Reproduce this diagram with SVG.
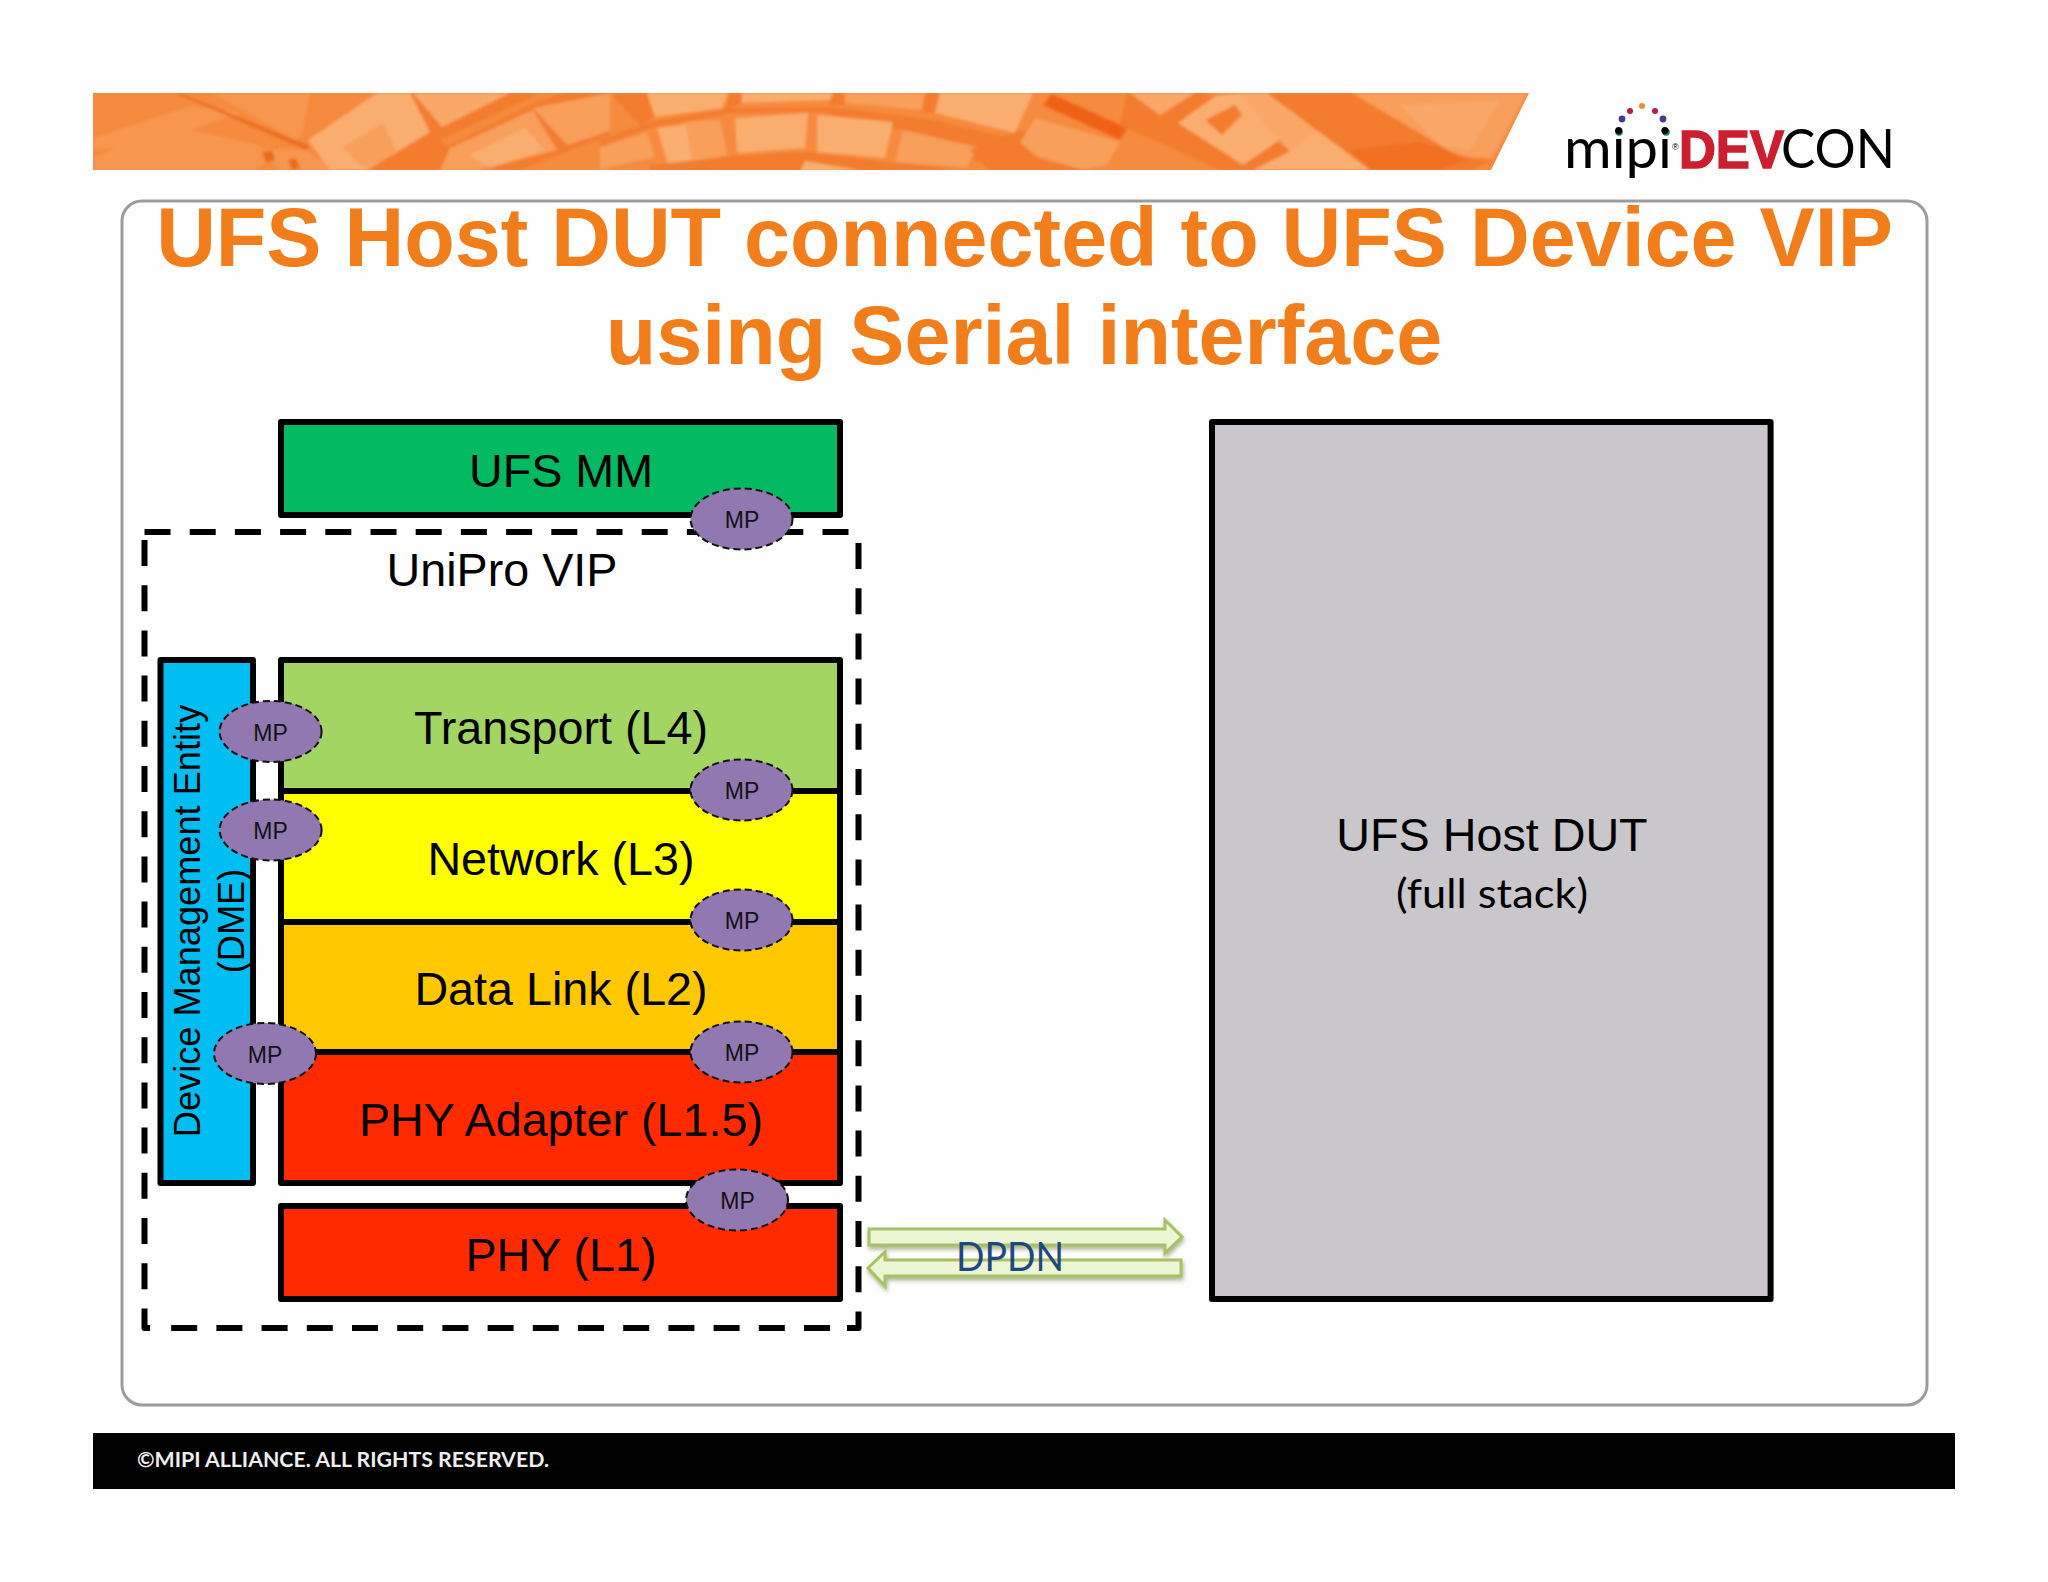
<svg xmlns="http://www.w3.org/2000/svg" width="2048" height="1582" viewBox="0 0 2048 1582">
<defs>
<style>
text{font-family:"Liberation Sans",Arial,sans-serif;fill:#000}
.box{stroke:#000;stroke-width:6;stroke-linejoin:round}
.lbl{font-size:46.7px;text-anchor:middle}
.mp ellipse{fill:#9178b1;stroke:#111;stroke-width:2;stroke-dasharray:7 4}
.mp text{font-size:23px;text-anchor:middle;fill:#111}
.title{font-size:82.7px;font-weight:bold;fill:#f27d1b;text-anchor:middle}
.dme{font-size:36.2px;text-anchor:middle}
.arrow{fill:#ecf6d4;stroke:#a8c264;stroke-width:3;filter:url(#sh)}
.cal{font-family:Lato,"Noto Sans",sans-serif}
.b0{fill:#f7964f}.b1{fill:#f9ae70}.b2{fill:#f89f5b}.b3{fill:#f37c2f}.b4{fill:#ef6218}.b5{fill:#f9a868}
</style>
<filter id="sh" x="-5%" y="-40%" width="110%" height="200%"><feDropShadow dx="1" dy="3" stdDeviation="2" flood-color="#6b7a3a" flood-opacity=".55"/></filter>
<filter id="soft" x="-2%" y="-10%" width="104%" height="120%"><feGaussianBlur stdDeviation="1.6"/></filter>
<clipPath id="bc"><polygon points="93,93 1529,93 1491,170 93,170"/></clipPath>
</defs>
<rect width="2048" height="1582" fill="#fefefe"/>

<g id="banner" clip-path="url(#bc)">
<rect x="93" y="93" width="1440" height="77" fill="#f68a3e"/>
<g filter="url(#soft)">
<polygon class="b0" points="93,138 190,106 240,112 150,146 93,150"/>
<polygon class="b0" points="170,125 260,145 270,160 255,170 93,170 93,158"/>
<polygon class="b0" points="212,93 310,93 302,135 295,140"/>
<polygon points="175,93 180,93 310,146 306,150" fill="#ea6e22"/>
<polygon class="b0" points="250,148 306,150 335,170 280,170"/>
<polygon points="262,152 272,150 275,160 266,163" fill="#ea6a1e"/>
<polygon points="288,160 296,158 300,168 292,170" fill="#ea6a1e"/>
<polygon class="b3" points="395,93 540,93 440,140 470,170 367,170 430,132"/>
<polygon class="b1" points="308,140 377,93 410,93 430,132 367,170 330,170"/>
<polygon class="b2" points="343,147 383,123 397,153 367,168 358,163"/>
<polygon class="b5" points="413,93 442,127 510,93"/>
<polygon class="b3" points="440,150 540,100 610,80 610,135 570,150 520,170 430,170"/>
<polygon class="b2" points="450,148 533,110 557,150 480,170 440,170"/>
<polygon class="b1" points="470,155 525,128 545,150 490,168"/>
<polygon class="b2" points="533,108 610,93 610,131 567,145"/>
<polygon class="b3" points="600,140 650,122 730,108 833,107 933,120 1017,140 1100,170 1000,170 900,130 820,112 735,113 650,128 600,146"/>
<polygon class="b3" points="610,93 650,93 655,117 640,125"/>
<polygon class="b3" points="730,93 745,93 742,103 725,110"/>
<polygon class="b3" points="832,93 845,93 845,105 828,105"/>
<polygon class="b3" points="925,93 942,93 935,113 920,112"/>
<polygon class="b1" points="647,93 728,93 722,108 655,117"/>
<polygon class="b1" points="742,93 833,93 830,100 742,103"/>
<polygon class="b2" points="845,93 925,93 922,110 845,103"/>
<polygon class="b1" points="940,93 1033,93 1015,133 935,113"/>
<polygon class="b1" points="657,128 720,120 727,155 668,165"/>
<polygon class="b2" points="685,122 720,120 727,155 692,160"/>
<polygon class="b1" points="735,118 808,113 805,148 737,153"/>
<polygon class="b1" points="817,115 893,122 885,158 817,152"/>
<polygon class="b2" points="903,130 977,147 967,168 895,162"/>
<polygon class="b2" points="600,148 647,132 655,157 600,170"/>
<polygon class="b3" points="650,165 735,156 810,152 885,162 965,170 650,172"/>
<polygon class="b1" points="805,161 860,170 800,172"/>
<polygon class="b3" points="730,163 792,161 792,172 730,172"/>
<polygon class="b3" points="970,150 1020,130 1100,165 1085,172 990,172"/>
<polygon class="b2" points="1020,143 1035,118 1120,142 1107,165 1083,170 1037,157"/>
<polygon class="b4" points="1043,105 1052,94 1127,128 1120,140"/>
<polygon class="b3" points="1127,93 1205,93 1320,170 1220,170 1120,125"/>
<polygon class="b5" points="1130,93 1195,93 1160,115"/>
<polygon class="b1" points="1178,123 1217,95 1250,93 1297,128 1243,165"/>
<polygon class="b3" points="1205,120 1235,105 1242,115 1222,135"/>
<polygon class="b5" points="1237,93 1267,93 1370,170 1307,170"/>
<polygon class="b1" points="1287,153 1320,130 1370,170 1253,170"/>
<polygon class="b3" points="1267,93 1350,93 1460,157 1493,160 1470,170 1370,170"/>
<polygon class="b2" points="1353,93 1527,93 1493,158 1460,157"/>
<polygon class="b5" points="1400,105 1500,100 1470,150 1440,145"/>
<polygon class="b4" points="1350,150 1420,142 1470,158 1440,170 1370,170" opacity=".45"/>
</g>
</g>

<g id="logo">
<g fill="#f28c28"><circle cx="1642" cy="106" r="3"/></g>
<g fill="#b91c3c"><circle cx="1630" cy="111" r="3"/><circle cx="1655" cy="111" r="3"/></g>
<g fill="#4a3a8c"><circle cx="1622" cy="119" r="3.4"/><circle cx="1663" cy="119" r="3.4"/></g>
<g fill="#0f8a72"><circle cx="1619" cy="132" r="3.8"/><circle cx="1666" cy="132" r="3.8"/></g>
<text class="cal" x="1564" y="168" font-size="57" textLength="108" lengthAdjust="spacingAndGlyphs">mipi</text>
<text x="1672" y="150" font-size="9">®</text>
<text x="1679" y="168" font-size="54" font-weight="bold" style="fill:#cb1f30;stroke:#cb1f30;stroke-width:1.5" textLength="105" lengthAdjust="spacingAndGlyphs">DEV</text>
<text class="cal" x="1781" y="168" font-size="54" textLength="114" lengthAdjust="spacingAndGlyphs">CON</text>
</g>

<g id="panel">
<rect x="122" y="201" width="1805" height="1204" rx="20" fill="#fefefe" stroke="#9c9c9c" stroke-width="3"/>
</g>

<g id="title">
<text class="title" x="1024.5" y="266">UFS Host DUT connected to UFS Device VIP</text>
<text class="title" x="1024" y="364">using Serial interface</text>
</g>

<g id="unipro-vip">
<path d="M144.5 532H855M858.5 543V1312M144.5 540V1310M830 1328H171" fill="none" stroke="#000" stroke-width="6" stroke-dasharray="26 19.2"/>
<path d="M858.5 1312V1328H847M144.5 1310V1328H150" fill="none" stroke="#000" stroke-width="6" stroke-linejoin="round"/>
<text class="lbl" x="502" y="586">UniPro VIP</text>
</g>

<g id="ufs-mm"><rect class="box" x="281" y="422" width="559" height="93" fill="#03b962"/><text class="lbl" x="561" y="487">UFS MM</text></g>

<g id="dme">
<rect class="box" x="160.5" y="660" width="92.5" height="523" fill="#00bef2"/>
<text class="dme" transform="translate(200 921) rotate(-90)">Device Management Entity</text>
<text class="dme" transform="translate(244 921) rotate(-90)">(DME)</text>
</g>

<g id="transport"><rect class="box" x="281" y="660" width="559" height="131" fill="#a3d563"/><text class="lbl" x="561" y="744">Transport (L4)</text></g>
<g id="network"><rect class="box" x="281" y="791" width="559" height="131" fill="#ffff00"/><text class="lbl" x="561" y="875">Network (L3)</text></g>
<g id="data-link"><rect class="box" x="281" y="922" width="559" height="130" fill="#ffc800"/><text class="lbl" x="561" y="1005">Data Link (L2)</text></g>
<g id="phy-adapter"><rect class="box" x="281" y="1052" width="559" height="131" fill="#ff2a00"/><text class="lbl" x="561" y="1136">PHY Adapter (L1.5)</text></g>
<g id="phy"><rect class="box" x="281" y="1206" width="559" height="93" fill="#ff2a00"/><text class="lbl" x="561" y="1271">PHY (L1)</text></g>

<g id="host-dut">
<rect class="box" x="1212" y="422" width="558.6" height="877" fill="#c9c7cb"/>
<text class="lbl" x="1492" y="851">UFS Host DUT</text>
<text class="cal" x="1396" y="908" font-size="41" textLength="192" lengthAdjust="spacingAndGlyphs">(full stack)</text>
</g>

<g id="mp-mm" class="mp"><ellipse cx="741.5" cy="519" rx="51" ry="30.5"/><text x="742" y="528">MP</text></g>
<g id="mp-dme-l4" class="mp"><ellipse cx="270.6" cy="731.5" rx="51" ry="30.5"/><text x="270.6" y="740.5">MP</text></g>
<g id="mp-l4" class="mp"><ellipse cx="741.5" cy="790" rx="51" ry="30.5"/><text x="742" y="799">MP</text></g>
<g id="mp-dme-l3" class="mp"><ellipse cx="270.6" cy="830" rx="51" ry="30.5"/><text x="270.6" y="839">MP</text></g>
<g id="mp-l3" class="mp"><ellipse cx="741.5" cy="920" rx="51" ry="30.5"/><text x="742" y="929">MP</text></g>
<g id="mp-dme-l2" class="mp"><ellipse cx="265" cy="1053.5" rx="51" ry="30.5"/><text x="265" y="1062.5">MP</text></g>
<g id="mp-l2" class="mp"><ellipse cx="741.5" cy="1052" rx="51" ry="30.5"/><text x="742" y="1061">MP</text></g>
<g id="mp-l1" class="mp"><ellipse cx="737" cy="1200" rx="51" ry="30.5"/><text x="737.5" y="1209">MP</text></g>

<g id="connectors">
<polygon class="arrow" points="869,1229 1165,1229 1165,1220 1182,1237 1165,1253 1165,1245 869,1245"/>
<polygon class="arrow" points="1181,1260 885,1260 885,1252 868,1268 885,1286 885,1276 1181,1276"/>
<text class="cal" x="956" y="1271" font-size="40" style="fill:#1f497d" textLength="108" lengthAdjust="spacingAndGlyphs">DPDN</text>
</g>

<g id="footer">
<rect x="93" y="1433" width="1862" height="56" fill="#000"/>
<text class="cal" x="137" y="1467" font-size="20" font-weight="700" style="fill:#eeeeee" textLength="412" lengthAdjust="spacingAndGlyphs">©MIPI ALLIANCE. ALL RIGHTS RESERVED.</text>
</g>
</svg>
